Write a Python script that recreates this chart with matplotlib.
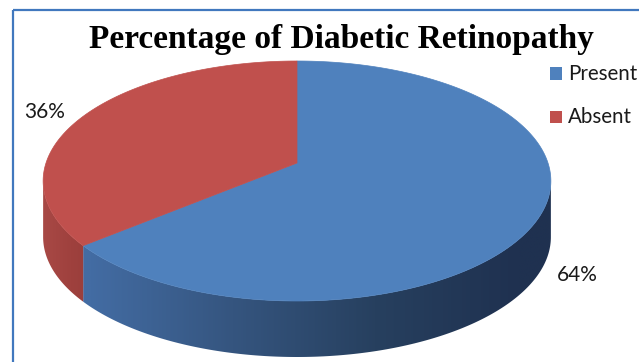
import numpy as np
import matplotlib
matplotlib.use("Agg")
import matplotlib.pyplot as plt
from matplotlib.patches import Polygon, Rectangle
from matplotlib.colors import LinearSegmentedColormap

# data
title = "Percentage of Diabetic Retinopathy"
categories = ["Present", "Absent"]
values = [64, 36]

# styles
top_colors = ["#4f81bd", "#c0504d"]
side_colors = [
    ["#436ca3", "#35557f", "#27405f", "#1f3150"],
    ["#a94a46", "#a44542", "#9f413e", "#9a3f3c"],
]

# layout (pixel space)
W, H = 639, 362
CX, CY, A, B, K = 297, 163, 251, 117.3, 0.15
DEPTH = 56
label_pos = [(577, 275), (45, 112)]


def project(t, r=1.0, drop=0.0):
    u = r * np.cos(t)
    w = r * np.sin(t)
    s = 1 + K * w
    return CX + A * u / s, CY - B * w / s + drop


fig = plt.figure(figsize=(W / 100, H / 100), dpi=100)
ax = fig.add_axes([0, 0, 1, 1])
ax.axis("off")

# slice angles: Excel starts at 12 o'clock, clockwise
fracs = np.array(values, dtype=float) / sum(values)
ends = np.radians(90 - 360 * np.concatenate([[0], np.cumsum(fracs)]))
spans = [(ends[i + 1], ends[i]) for i in range(len(values))]

front = (np.pi + np.arcsin(K) - 2 * np.pi, -np.arcsin(K))

# side walls with horizontal gradient
for i, (t1, t2) in enumerate(spans):
    for shift in (-2 * np.pi, 0, 2 * np.pi):
        lo = max(t1, front[0] + shift)
        hi = min(t2, front[1] + shift)
        if hi <= lo:
            continue
        t = np.linspace(lo, hi, 200)
        xt, yt = project(t)
        xb, yb = project(t[::-1], drop=DEPTH)
        poly = Polygon(np.column_stack([np.r_[xt, xb], np.r_[yt, yb]]),
                       closed=True, fc="none", ec="none")
        ax.add_patch(poly)
        cmap = LinearSegmentedColormap.from_list("side%d" % i, side_colors[i])
        x0, x1 = xt.min() - 2, xt.max() + 2
        gx = np.linspace(0, 1, 256)
        if i == 0:
            gx = np.clip((np.linspace(x0, x1, 256) - 89) / (520 - 89), 0, 1)
        im = ax.imshow(gx[None, :], cmap=cmap, vmin=0, vmax=1, aspect="auto",
                       extent=(x0, x1, yb.max() + 2, yt.min() - 2),
                       interpolation="bilinear", zorder=1)
        im.set_clip_path(poly)

# top faces
for i, (t1, t2) in enumerate(spans):
    t = np.linspace(t1, t2, 300)
    x, y = project(t)
    pts = np.column_stack([np.r_[CX, x], np.r_[CY, y]])
    ax.add_patch(Polygon(pts, closed=True, fc=top_colors[i], ec=top_colors[i],
                         lw=0.5, zorder=3))

# data labels
for i, v in enumerate(values):
    ax.text(label_pos[i][0], label_pos[i][1], "%d%%" % round(fracs[i] * 100),
            ha="center", va="center", fontsize=15, family="Lato", color="#1a1a1a")

# legend
for i, c in enumerate(categories):
    ly = 73.5 + 43.5 * i
    ax.add_patch(Rectangle((549.5, ly - 6.5), 12.5, 12.5, fc=top_colors[i], ec="none"))
    ax.text(568, ly, c, ha="left", va="center", fontsize=14.8, family="Lato",
            color="#1a1a1a")

# title
ax.text(341, 48, title, ha="center", va="baseline", fontsize=24,
        family="Liberation Serif", weight="bold", color="black")

# chart frame (only left and top visible)
ax.add_patch(Rectangle((12.5, 9.5), 700, 400, fill=False, ec="#4178be", lw=1.6,
                       zorder=5))

ax.set_xlim(0, W)
ax.set_ylim(H, 0)
fig.savefig("out.png", dpi=100, facecolor="white")
